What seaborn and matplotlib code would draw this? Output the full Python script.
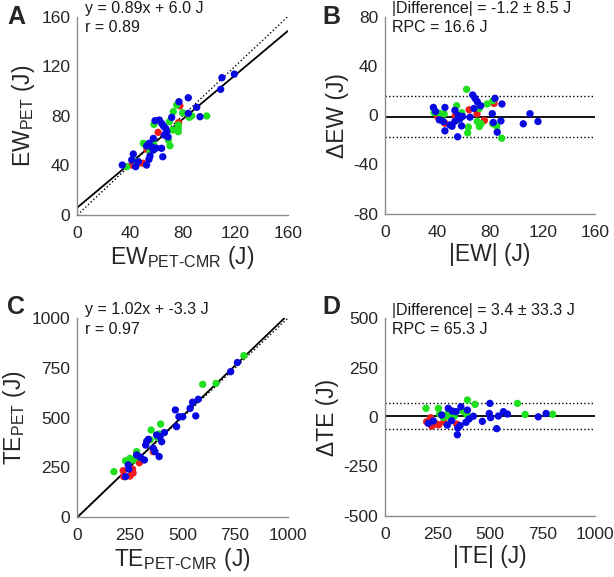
import numpy as np
import pandas as pd
import matplotlib
matplotlib.use("Agg")
import matplotlib.pyplot as plt
import seaborn as sns

# ---- panel A: EW, PET vs PET-CMR ----
ew_blue_x = [110, 119.4, 109, 84.4, 77.3, 90.8, 93.3, 84.4, 71.8, 62.4, 59.1, 64.2, 65.5, 67.2, 68, 66.2, 57.8,
             54.5, 52.7, 56.5, 64.1, 57.8, 55.3, 65, 54.5, 42.6, 41.4, 46.4, 52.7, 34.2, 44.4, 60, 69]
ew_blue_y = [110.8, 113.7, 101.4, 94.6, 91.4, 86.9, 79.3, 82, 78.8, 76.6, 76.1, 73.9, 71.8, 69.9, 67.2, 64.5, 61.8,
             57.8, 55.7, 55, 53.8, 52.4, 47.6, 47, 44.9, 49.2, 44.4, 43, 40.3, 40.3, 39, 54, 63]
ew_green_x = [58.3, 75.6, 73, 80.1, 85.2, 98.4, 70, 76.8, 76.8, 76.8, 72.5, 69.2, 70.5, 50.2, 57.8, 55.3, 37.5, 52, 87, 45]
ew_green_y = [73.1, 88.7, 83.4, 82.5, 78.8, 79.9, 75.3, 72.6, 69.9, 67.2, 68.6, 60.5, 55.9, 57.8, 58.3, 51.1, 39, 56, 80, 43]
ew_red_x = [78, 61.5, 77, 50.2, 41.4, 53, 47]
ew_red_y = [88, 66.7, 74.5, 41.7, 40.3, 53, 42]

# ---- panel B: EW Bland-Altman ----
baew_blue_x = [66.7, 68.5, 70.2, 83.7, 89, 72.8, 67.7, 45.6, 36.8, 53.2, 55.8, 57, 64.7, 81.6, 110.3, 105.2, 116.4,
               88.2, 82.4, 85.4, 55.3, 45.6, 41.3, 44.4, 49.4, 58.3, 53.2, 38.5, 59, 51]
baew_blue_y = [16.4, 13.7, 11, 13.7, 9.1, 7.7, 5.5, 6.3, 6.3, 3.9, -0.3, -3, -1.6, 1.2, 1.2, -7, -5.1,
               -4.6, -5.9, -13.8, -17.5, -12.7, -3.8, -5.2, -7.9, -8.7, -4.9, 3, -1, -9]
baew_green_x = [62.1, 82, 77.8, 71.8, 54.5, 37.3, 41.8, 58.3, 70.2, 71.8, 63.4, 62.9, 82, 85, 88.8, 55, 73, 45]
baew_green_y = [21, 11.8, 9.1, 5.5, 7.7, 2.2, 1.4, 2, -5.1, -9.2, -9.7, -14.4, -7, -9, -18.7, -4, -7, 1]
baew_red_x = [83, 64, 75.6, 45.6, 53.5, 40, 70]
baew_red_y = [9.6, 4.4, -4.3, -6.5, -0.5, -1, 1]

# ---- panel C: TE, PET vs PET-CMR ----
te_blue_x = [761, 729, 575, 548, 536, 466, 501, 483, 563, 472, 414, 393, 377, 401, 338, 325, 361, 369, 389,
             282, 319, 242, 229, 330, 300, 245]
te_blue_y = [777, 731, 592, 577, 546, 538, 504, 504, 508, 454, 424, 403, 412, 378, 390, 361, 345, 328, 303,
             311, 286, 261, 202, 380, 300, 240]
te_green_x = [792, 659, 596, 396, 351, 390, 346, 282, 250, 229, 266, 174, 295, 380]
te_green_y = [812, 672, 667, 467, 437, 417, 387, 328, 294, 282, 286, 227, 300, 400]
te_red_x = [361, 295, 263, 250, 218, 221, 265]
te_red_y = [328, 272, 239, 205, 232, 202, 220]

# ---- panel D: TE Bland-Altman ----
bate_blue_x = [301, 361, 499, 392, 338, 563, 582, 496, 729, 766, 539, 502, 420, 463, 531, 344, 346, 206, 296,
               317, 385, 357, 230, 270, 400, 320]
bate_blue_y = [44, 52, 69, 35, 27, 27, 15, 18, 1, 18, 5, -3, 4, -22, -59, -90, -56, -32, -41,
               -19, -27, -44, -20, 10, -10, 30]
bate_green_x = [195, 254, 392, 428, 630, 666, 797, 277, 300, 330, 370, 260, 390, 310]
bate_green_y = [44, 44, 86, 64, 69, 13, 14, -2, 20, 5, 30, 15, 10, -5]
bate_red_x = [222, 246, 198, 217, 341, 280, 255]
bate_red_y = [-46, -36, -24, -4, -36, -25, -40]

# fit / agreement statistics shown in the panels
ew_slope, ew_intercept, ew_r = 0.89, 6.0, 0.89
te_slope, te_intercept, te_r = 1.02, -3.3, 0.97
ew_bias, ew_sd, ew_rpc = -1.2, 8.5, 16.6
te_bias, te_sd, te_rpc = 3.4, 33.3, 65.3

ew_ticks = [0, 40, 80, 120, 160]
ew_diff_ticks = [-80, -40, 0, 40, 80]
te_ticks = [0, 250, 500, 750, 1000]
te_diff_ticks = [-500, -250, 0, 250, 500]

palette = {"red": "#ee1c1c", "green": "#1fe01f", "blue": "#0808e0"}
group_order = ["red", "green", "blue"]


def make_df(bx, by, gx, gy, rx, ry):
    return pd.DataFrame({
        "x": list(rx) + list(gx) + list(bx),
        "y": list(ry) + list(gy) + list(by),
        "group": ["red"] * len(rx) + ["green"] * len(gx) + ["blue"] * len(bx),
    })


sns.set_style("white")
plt.rcParams["font.family"] = ["Liberation Sans", "DejaVu Sans"]
plt.rcParams["mathtext.fontset"] = "custom"
plt.rcParams["mathtext.rm"] = "Liberation Sans"
plt.rcParams["mathtext.it"] = "Liberation Sans:italic"
plt.rcParams["mathtext.bf"] = "Liberation Sans:bold"
plt.rcParams["axes.unicode_minus"] = False

W, H = 614, 577
fig = plt.figure(figsize=(W / 100, H / 100), dpi=100)


def add_ax(l, r, t, b):
    return fig.add_axes([l / W, 1 - b / H, (r - l) / W, (b - t) / H])


def style_ax(ax, xticks, yticks, xlabel, ylabel):
    ax.set_xlim(xticks[0], xticks[-1])
    ax.set_ylim(yticks[0], yticks[-1])
    ax.set_xticks(xticks)
    ax.set_yticks(yticks)
    for s in ["top", "right"]:
        ax.spines[s].set_visible(False)
    for s in ["left", "bottom"]:
        ax.spines[s].set_color("#8c8c8c")
        ax.spines[s].set_linewidth(1.0)
    ax.tick_params(direction="in", length=4, width=1, colors="#8c8c8c",
                   labelcolor="#262626", labelsize=12.5)
    ax.tick_params(axis="x", pad=8)
    ax.tick_params(axis="y", pad=5)
    ax.set_xlabel(xlabel, fontsize=16.5, color="#262626", labelpad=2)
    ax.set_ylabel(ylabel, fontsize=16.5, color="#262626", labelpad=3)
    ax.set_facecolor("white")


def scatter(ax, df):
    sns.scatterplot(data=df, x="x", y="y", hue="group", hue_order=group_order, palette=palette,
                    s=28, linewidth=0, legend=False, ax=ax, zorder=3)


def stats_text(ax, txt):
    ax.text(0.035, 1.08, txt, transform=ax.transAxes, ha="left", va="top",
            fontsize=11.5, linespacing=1.35, color="#1a1a1a")


# A
axA = add_ax(77.3, 287.7, 16.7, 215)
axA.axline((0, 0), slope=1, color="black", linestyle=":", linewidth=1.0, zorder=2)
axA.axline((0, ew_intercept), slope=ew_slope, color="black", linewidth=1.3, zorder=2)
scatter(axA, make_df(ew_blue_x, ew_blue_y, ew_green_x, ew_green_y, ew_red_x, ew_red_y))
style_ax(axA, ew_ticks, ew_ticks, r"EW$_{\mathrm{PET}\text{-}\mathrm{CMR}}$ (J)", r"EW$_{\mathrm{PET}}$ (J)")
stats_text(axA, f"y = {ew_slope:.2f}x + {ew_intercept:.1f} J\nr = {ew_r:.2f}")

# B
axB = add_ax(385, 595.3, 16.7, 213.7)
axB.axhline(ew_bias, color="black", linewidth=1.3, zorder=2)
axB.axhline(ew_bias + ew_rpc, color="black", linestyle=":", linewidth=1.0, zorder=2)
axB.axhline(ew_bias - ew_rpc, color="black", linestyle=":", linewidth=1.0, zorder=2)
scatter(axB, make_df(baew_blue_x, baew_blue_y, baew_green_x, baew_green_y, baew_red_x, baew_red_y))
style_ax(axB, ew_ticks, ew_diff_ticks, "|EW| (J)", "\u0394EW (J)")
stats_text(axB, f"|Difference| = {ew_bias:.1f} \u00b1 {ew_sd:.1f} J\nRPC = {ew_rpc:.1f} J")

# C
axC = add_ax(77.3, 287.7, 318.3, 516.7)
axC.axline((0, 0), slope=1, color="black", linestyle=":", linewidth=1.0, zorder=2)
axC.axline((0, te_intercept), slope=te_slope, color="black", linewidth=1.3, zorder=2)
scatter(axC, make_df(te_blue_x, te_blue_y, te_green_x, te_green_y, te_red_x, te_red_y))
style_ax(axC, te_ticks, te_ticks, r"TE$_{\mathrm{PET}\text{-}\mathrm{CMR}}$ (J)", r"TE$_{\mathrm{PET}}$ (J)")
stats_text(axC, f"y = {te_slope:.2f}x + {te_intercept:.1f} J\nr = {te_r:.2f}")

# D
axD = add_ax(385, 595.3, 318.3, 515.7)
axD.axhline(te_bias, color="black", linewidth=1.3, zorder=2)
axD.axhline(te_bias + te_rpc, color="black", linestyle=":", linewidth=1.0, zorder=2)
axD.axhline(te_bias - te_rpc, color="black", linestyle=":", linewidth=1.0, zorder=2)
scatter(axD, make_df(bate_blue_x, bate_blue_y, bate_green_x, bate_green_y, bate_red_x, bate_red_y))
style_ax(axD, te_ticks, te_diff_ticks, "|TE| (J)", "\u0394TE (J)")
stats_text(axD, f"|Difference| = {te_bias:.1f} \u00b1 {te_sd:.1f} J\nRPC = {te_rpc:.1f} J")

# panel letters
for letter, px, py in [("A", 7, 17), ("B", 322, 17), ("C", 7, 307), ("D", 322, 307)]:
    fig.text(px / W, 1 - py / H, letter, fontsize=18, fontweight="bold", ha="left", va="center")

fig.savefig("out.png", dpi=100)
